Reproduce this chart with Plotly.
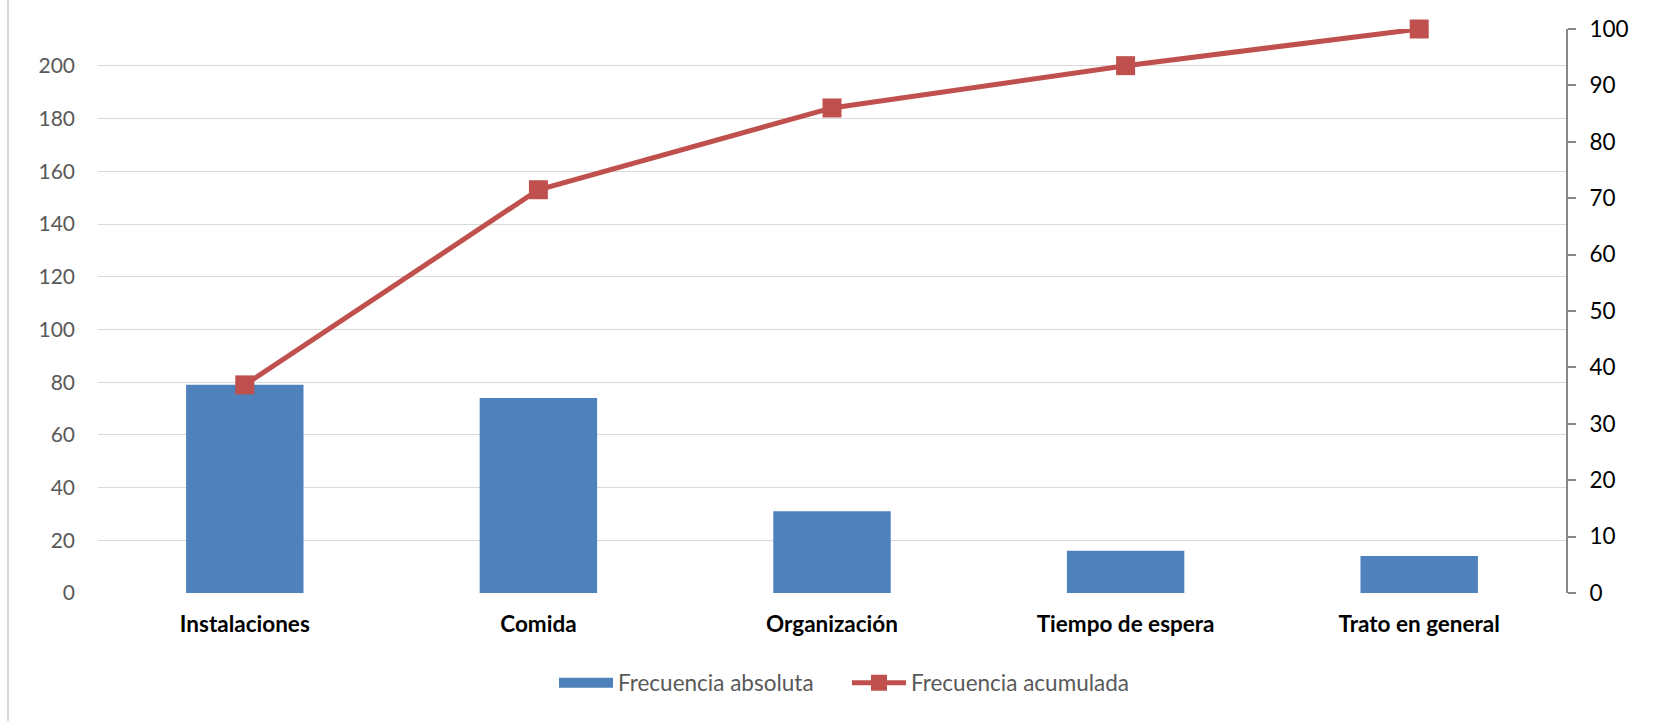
import plotly.graph_objects as go

categories = ["Instalaciones", "Comida", "Organización", "Tiempo de espera", "Trato en general"]
frecuencia_absoluta = [79, 74, 31, 16, 14]
frecuencia_acumulada = [36.9, 71.5, 86.0, 93.5, 100.0]
left_ticks = [0, 20, 40, 60, 80, 100, 120, 140, 160, 180, 200]
right_ticks = [0, 10, 20, 30, 40, 50, 60, 70, 80, 90, 100]

W, H = 1663, 721
ML, MR, MT, MB = 98, 97, 29, 128
PW, PH = W - ML - MR, H - MT - MB
FONT = "Lato"
BLUE, RED = "#4F81BD", "#C0504D"

fig = go.Figure()
fig.add_trace(go.Bar(
    x=categories, y=frecuencia_absoluta, name="Frecuencia absoluta",
    marker=dict(color=BLUE, line=dict(width=0)),
    yaxis="y", showlegend=False,
))
# legend-only entry giving the wide rectangular swatch of the bar series
fig.add_trace(go.Scatter(
    x=[None], y=[None], name="Frecuencia absoluta", mode="lines",
    line=dict(color=BLUE, width=15), yaxis="y", hoverinfo="skip",
))
fig.add_trace(go.Scatter(
    x=categories, y=frecuencia_acumulada, name="Frecuencia acumulada",
    mode="lines+markers", yaxis="y2", cliponaxis=False,
    line=dict(color=RED, width=5),
    marker=dict(symbol="square", size=19, color=RED),
))

fig.update_layout(
    width=W, height=H,
    margin=dict(l=ML, r=MR, t=MT, b=MB, autoexpand=False),
    paper_bgcolor="white", plot_bgcolor="white",
    bargap=0.6,
    font=dict(family=FONT),
    showlegend=True,
    legend=dict(
        orientation="h", x=(554 - ML) / PW, xanchor="left",
        y=-(683 - (H - MB)) / PH, yanchor="middle",
        font=dict(size=22.5, color="#595959", family=FONT),
        itemwidth=54, traceorder="normal", tracegroupgap=0,
        entrywidth=224,
    ),
    xaxis=dict(
        type="category", showgrid=False, showline=False, ticks="",
        tickfont=dict(size=22.5, color="black", family=FONT, weight="bold"),
        ticklabelstandoff=15, zeroline=False,
    ),
    yaxis=dict(
        range=[0, 214], tickvals=left_ticks, showgrid=True,
        gridcolor="#D9D9D9", gridwidth=1.4, zeroline=False, showline=False,
        ticks="", tickfont=dict(size=21, color="#595959", family=FONT),
        ticklabelstandoff=22,
    ),
    yaxis2=dict(
        range=[0, 100], tickvals=right_ticks, overlaying="y", side="right",
        showgrid=False, zeroline=False, showline=True, linecolor="#868686",
        linewidth=2, ticks="outside", ticklen=8, tickwidth=2, tickcolor="#868686",
        tickfont=dict(size=22.5, color="black", family=FONT),
        ticklabelstandoff=9,
    ),
    shapes=[dict(
        type="line", xref="paper", yref="paper",
        x0=(8 - ML) / PW, x1=(8 - ML) / PW,
        y0=-MB / PH, y1=1 + MT / PH,
        line=dict(color="#D9D9D9", width=2),
    )],
)

fig.write_html(
    "out.html",
    config={"displayModeBar": False},
    post_script="document.body.style.margin='0';document.body.style.overflow='hidden';",
)
